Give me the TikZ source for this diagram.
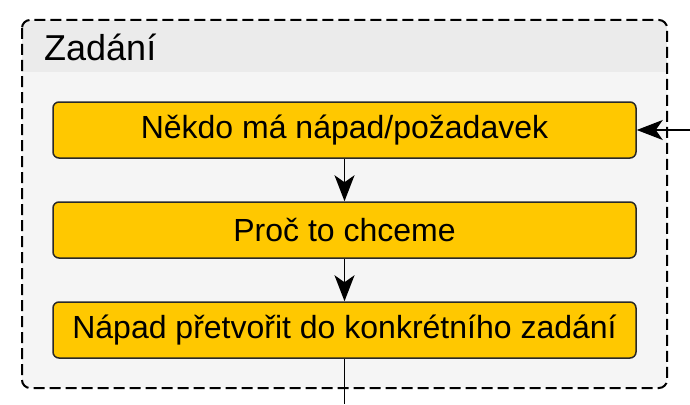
\documentclass[tikz,border=0pt]{standalone}
\usepackage{fontspec}
\setmainfont{Liberation Sans}
\usetikzlibrary{arrows.meta}
\definecolor{boxfill}{RGB}{255,200,0}
\definecolor{headgray}{RGB}{235,235,235}
\definecolor{bodygray}{RGB}{245,245,245}
\definecolor{edgegray}{RGB}{40,40,40}
\tikzset{
  stepbox/.style={draw=edgegray, line width=1.5pt, fill=boxfill, rounded corners=6pt,
    minimum width=583pt, minimum height=56pt, inner sep=0pt,
    font=\fontsize{32}{36}\selectfont},
  arr/.style={line width=1.6pt, -{Stealth[length=26pt,width=20pt,inset=7pt]}},
  plainline/.style={line width=1.6pt},
  container/.style={draw=black, line width=2pt, dash pattern=on 11pt off 5pt, rounded corners=8pt},
}
\begin{document}
\begin{tikzpicture}[x=1pt,y=-1pt]
\useasboundingbox (0,0) rectangle (690,404);
\begin{scope}
  \clip[rounded corners=8pt] (22,20) rectangle (667,388);
  \fill[bodygray] (22,20) rectangle (667,388);
  \fill[headgray] (22,20) rectangle (667,72);
\end{scope}
\draw[container] (22,20) rectangle (667,388);
\node[anchor=west, inner sep=0pt, font=\fontsize{36}{40}\selectfont] (title) at (44,47) {Zadání};
\node[stepbox] (n1) at (344.5,130) {Někdo má nápad/požadavek};
\node[stepbox] (n2) at (344.5,230) {Proč to chceme};
\node[stepbox] (n3) at (344.5,330) {Nápad přetvořit do konkrétního zadání};
\coordinate (in) at (690,130);
\coordinate (out) at (344.5,404);
\draw[arr] (in) -- (n1.east);
\draw[arr] (n1) -- (n2);
\draw[arr] (n2) -- (n3);
\draw[plainline] (n3.south) -- (out);
\end{tikzpicture}
\end{document}
